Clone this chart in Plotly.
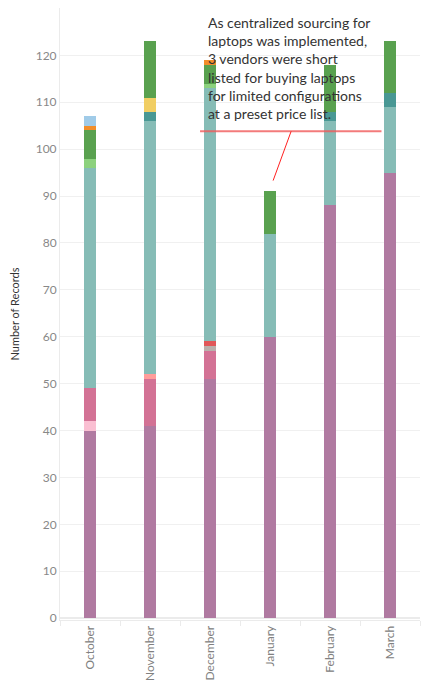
import plotly.graph_objects as go

months = ['October', 'November', 'December', 'January', 'February', 'March']

# records per vendor, stacked bottom -> top
vendor_names = ['Vendor 1', 'Vendor 2', 'Vendor 3', 'Vendor 4', 'Vendor 5', 'Vendor 6',
                'Vendor 7', 'Vendor 8', 'Vendor 9', 'Vendor 10', 'Vendor 11', 'Vendor 12',
                'Vendor 13']
vendor_colors = ['#b07aa1', '#fabfd2', '#d37295', '#ff9d9a', '#bab0ac', '#e15759',
                 '#86bcb6', '#499894', '#8cd17d', '#f1ce63', '#59a14f', '#f28e2b',
                 '#a0cbe8']

v1 = [40, 41, 51, 60, 88, 95]
v2 = [2, 0, 0, 0, 0, 0]
v3 = [7, 10, 6, 0, 0, 0]
v4 = [0, 1, 0, 0, 0, 0]
v5 = [0, 0, 1, 0, 0, 0]
v6 = [0, 0, 1, 0, 0, 0]
v7 = [47, 54, 54, 22, 18, 14]
v8 = [0, 2, 0, 0, 2, 3]
v9 = [2, 0, 1, 0, 0, 0]
v10 = [0, 3, 0, 0, 0, 0]
v11 = [6, 12, 4, 9, 10, 11]
v12 = [1, 0, 1, 0, 0, 0]
v13 = [2, 0, 0, 0, 0, 0]
vendor_values = [v1, v2, v3, v4, v5, v6, v7, v8, v9, v10, v11, v12, v13]

note = ('As centralized sourcing for<br>laptops was implemented,<br>'
        '3 vendors were short<br>listed for buying laptops<br>'
        'for limited configurations<br>at a preset price list.')


def main():
    fig = go.Figure()
    for name, color, vals in zip(vendor_names, vendor_colors, vendor_values):
        fig.add_trace(go.Bar(x=months, y=vals, name=name, marker_color=color,
                             marker_line_width=0, width=0.2))

    # page body adds an 8px margin, so the figure is sized to fit inside it
    fig.update_layout(
        barmode='stack',
        width=417, height=678,
        margin=dict(l=52, r=5, t=0, b=66),
        plot_bgcolor='white', paper_bgcolor='white',
        showlegend=False,
        font=dict(family='Lato, Open Sans, sans-serif', size=11, color='#808080'),
    )
    fig.update_yaxes(
        range=[-0.4, 130.1], dtick=10, showgrid=True, gridcolor='#f0f0f0',
        zeroline=True, zerolinecolor='#ebebeb', showline=True, linecolor='#ebebeb',
        title=dict(text='Number of Records', font=dict(color='#333333', size=11),
                   standoff=20),
        tickfont=dict(size=12, color='#888888'), automargin=False,
    )
    fig.update_xaxes(
        tickangle=-90, showline=True, linecolor='#ebebeb', ticks='outside',
        tickson='boundaries', tickcolor='#ebebeb', ticklen=5,
        tickfont=dict(size=12, color='#808080'), automargin=False,
    )

    fig.add_annotation(text=note, xref='paper', yref='y', x=0.405, y=129.2,
                       xanchor='left', yanchor='top', align='left', showarrow=False,
                       font=dict(family='Lato, Open Sans, sans-serif', size=14,
                                 color='#333333'))
    fig.add_shape(type='line', xref='paper', yref='y', x0=0.389, x1=0.893,
                  y0=103.8, y1=103.8, line=dict(color='rgba(240,90,90,0.8)', width=2))
    fig.add_shape(type='line', xref='paper', yref='y', x0=0.642, x1=0.592,
                  y0=103.8, y1=93.3, line=dict(color='#ff2020', width=1))

    fig.write_html('out.html')


if __name__ == '__main__':
    main()
